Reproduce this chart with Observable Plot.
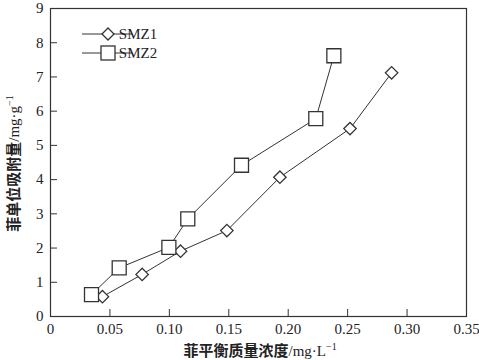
<!DOCTYPE html>
<html><head><meta charset="utf-8">
<script src="https://cdn.jsdelivr.net/npm/d3@7"></script>
<script src="https://cdn.jsdelivr.net/npm/@observablehq/plot@0.6"></script>
<style>body{margin:0;background:#fff}#c{position:relative;width:479px;height:360px}</style>
</head><body><div id="c"></div>
<script>
const seriesNames = ["SMZ1", "SMZ2"];
const smz1X = [0.0437, 0.0771, 0.1094, 0.1484, 0.193, 0.252, 0.287];
const smz1Y = [0.58, 1.23, 1.91, 2.51, 4.07, 5.49, 7.12];
const smz2X = [0.0345, 0.0578, 0.0996, 0.1155, 0.1607, 0.2232, 0.2384];
const smz2Y = [0.64, 1.42, 2.02, 2.85, 4.42, 5.78, 7.62];
const xTicks = [0, 0.05, 0.10, 0.15, 0.20, 0.25, 0.30, 0.35];
const yTicks = [0, 1, 2, 3, 4, 5, 6, 7, 8, 9];
const xLabelCJK = "菲平衡质量浓度", xLabelUnit = "/mg·L";
const yLabelCJK = "菲单位吸附量", yLabelUnit = "/mg·g";
const unitExp = "−1";

const s1 = smz1X.map((x, i) => ({x, y: smz1Y[i], s: "SMZ1"}));
const s2 = smz2X.map((x, i) => ({x, y: smz2Y[i], s: "SMZ2"}));

const W = 479, H = 360, mL = 50, mR = 13, mT = 8, mB = 44;
const fw = W - mL - mR, fh = H - mT - mB;
const ink = "#333";
const serif = "'Liberation Serif', 'Times New Roman', 'DejaVu Serif', serif";
const cjk = "'Noto Sans CJK SC', sans-serif";
const diamond = {draw(ctx) { const a = 6.2; ctx.moveTo(0,-a); ctx.lineTo(a,0); ctx.lineTo(0,a); ctx.lineTo(-a,0); ctx.closePath(); }};
const square = {draw(ctx) { const a = 7; ctx.rect(-a,-a,2*a,2*a); }};

const chart = Plot.plot({
  width: W, height: H,
  marginLeft: mL, marginRight: mR, marginTop: mT, marginBottom: mB,
  style: {fontFamily: serif, fontSize: "15px", color: "#222", background: "#fff"},
  x: {domain: [0, 0.35]},
  y: {domain: [0, 9]},
  marks: [
    Plot.frame({stroke: ink, strokeWidth: 1.2}),
    Plot.tickX(xTicks.slice(1, -1), {x: d => d, insetTop: fh - 7, stroke: ink}),
    Plot.tickY(yTicks.slice(1, -1), {y: d => d, insetRight: fw - 7, stroke: ink}),
    Plot.axisX({ticks: xTicks, tickSize: 0, tickPadding: 7, label: null,
      tickFormat: d => d === 0 ? "0" : d.toFixed(2)}),
    Plot.axisY({ticks: yTicks, tickSize: 0, tickPadding: 7, label: null,
      tickFormat: d => String(d)}),
    Plot.line(s1, {x: "x", y: "y", stroke: ink, strokeWidth: 1}),
    Plot.line(s2, {x: "x", y: "y", stroke: ink, strokeWidth: 1}),
    Plot.dot(s1, {x: "x", y: "y", symbol: diamond, fill: "white", stroke: ink, strokeWidth: 1.3}),
    Plot.dot(s2, {x: "x", y: "y", symbol: square, fill: "white", stroke: ink, strokeWidth: 1.3})
  ]
});
document.getElementById("c").appendChild(chart);

const svg = d3.select(chart);
svg.selectAll("text").style("font-family", serif).style("font-size", "15px").attr("fill", "#222");

function title(sel, cjkText, unit) {
  sel.attr("text-anchor", "middle").style("font-size", "15px").attr("fill", "#222");
  sel.append("tspan").style("font-family", cjk).style("font-size", "15px").attr("font-weight", 700).text(cjkText);
  sel.append("tspan").style("font-family", serif).text(unit);
  sel.append("tspan").style("font-family", serif).style("font-size", "10px").attr("dy", -6).text(unitExp);
}
title(svg.append("text").attr("x", mL + fw * 0.505).attr("y", H - 4), xLabelCJK, xLabelUnit);
title(svg.append("text").attr("transform", `translate(19,${mT + fh * 0.505}) rotate(-90)`), yLabelCJK, yLabelUnit);

// legend
const leg = svg.append("g").attr("transform", `translate(${mL + 32},${mT + 26})`);
seriesNames.forEach((name, i) => {
  const g = leg.append("g").attr("transform", `translate(0,${i * 19})`);
  g.append("line").attr("x1", 0).attr("x2", 50).attr("y1", 0).attr("y2", 0).attr("stroke", ink);
  if (i === 0) g.append("path").attr("d", "M26,-6L32,0L26,6L20,0Z").attr("fill", "white").attr("stroke", ink).attr("stroke-width", 1.3);
  else g.append("rect").attr("x", 19).attr("y", -7).attr("width", 14).attr("height", 14).attr("fill", "white").attr("stroke", ink).attr("stroke-width", 1.3);
  g.append("text").attr("x", 56).attr("y", 0).attr("dy", "0.35em").style("font-size", "15px").style("font-family", serif).attr("fill", "#222").text(name);
});
</script></body></html>
